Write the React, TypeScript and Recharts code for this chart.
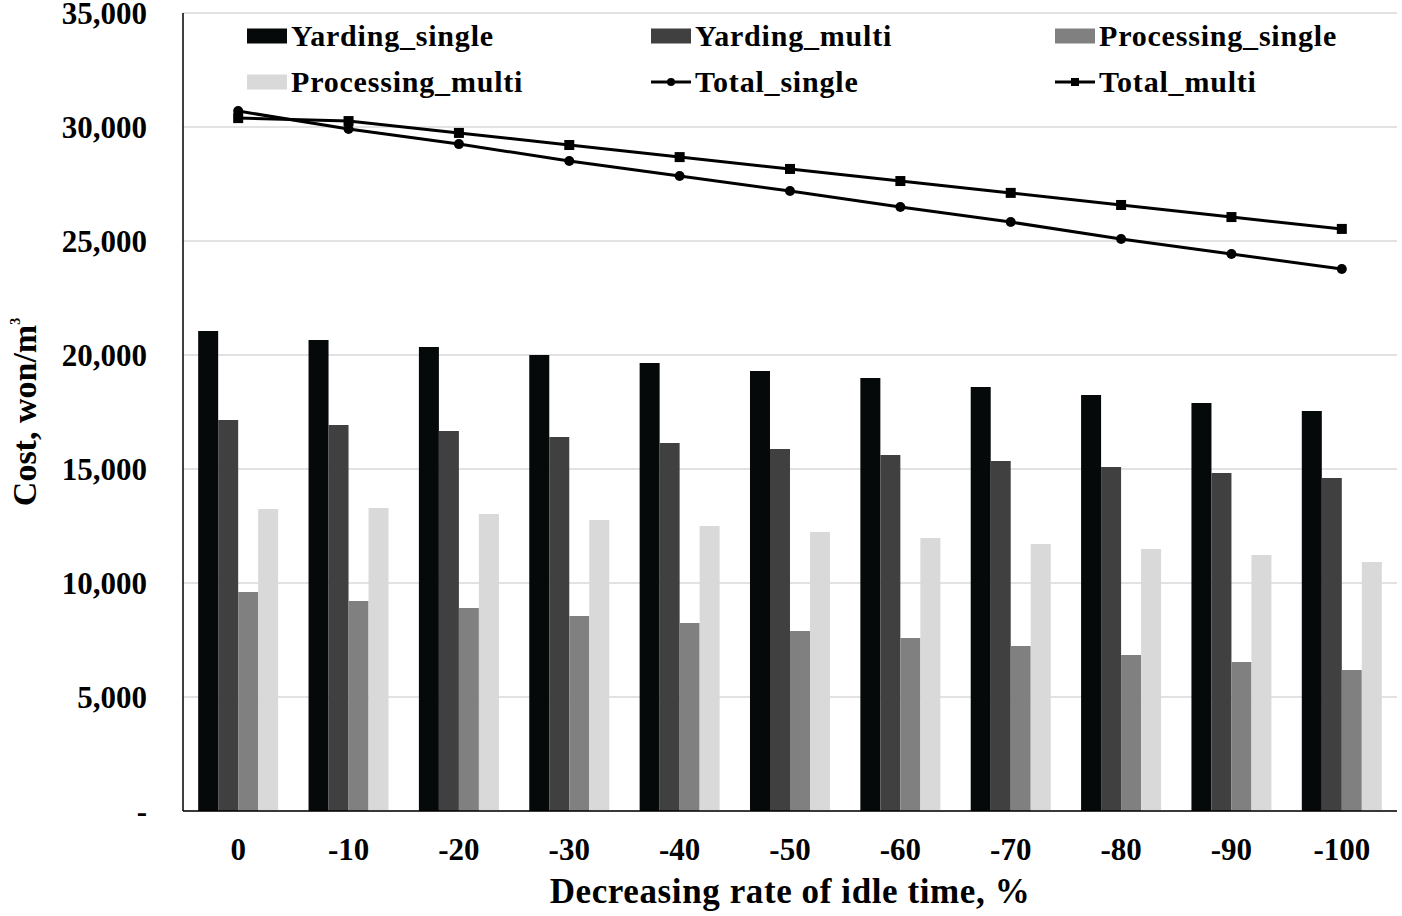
import React from 'react';
import {
  ComposedChart,
  Bar,
  Line,
  XAxis,
  YAxis,
  CartesianGrid,
} from 'recharts';

const categories = ['0', '-10', '-20', '-30', '-40', '-50', '-60', '-70', '-80', '-90', '-100'];
const yardingSingle = [21050, 20660, 20350, 20000, 19650, 19300, 18990, 18600, 18250, 17900, 17540];
const yardingMulti = [17150, 16930, 16670, 16400, 16140, 15880, 15610, 15350, 15090, 14820, 14600];
const processingSingle = [9600, 9210, 8900, 8550, 8250, 7890, 7590, 7240, 6840, 6540, 6180];
const processingMulti = [13250, 13290, 13030, 12760, 12500, 12240, 11970, 11710, 11490, 11230, 10920];
const totalSingle = [30700, 29910, 29250, 28510, 27850, 27190, 26490, 25830, 25090, 24430, 23770];
const totalMulti = [30390, 30260, 29740, 29210, 28680, 28160, 27630, 27110, 26580, 26050, 25530];
const yTicks = [0, 5000, 10000, 15000, 20000, 25000, 30000, 35000];

const chartData = categories.map((cat, i) => ({
  cat,
  yardingSingle: yardingSingle[i],
  yardingMulti: yardingMulti[i],
  processingSingle: processingSingle[i],
  processingMulti: processingMulti[i],
  totalSingle: totalSingle[i],
  totalMulti: totalMulti[i],
}));

const FONT = '"Liberation Serif", "Times New Roman", serif';

const legendItems = [
  { name: 'Yarding_single', color: '#050909', kind: 'bar' },
  { name: 'Yarding_multi', color: '#404040', kind: 'bar' },
  { name: 'Processing_single', color: '#808080', kind: 'bar' },
  { name: 'Processing_multi', color: '#d9d9d9', kind: 'bar' },
  { name: 'Total_single', color: '#000', kind: 'circle' },
  { name: 'Total_multi', color: '#000', kind: 'square' },
];

const SquareDot = (props: any) => {
  const { cx, cy } = props;
  if (cx == null || cy == null) return null;
  return <rect x={cx - 5} y={cy - 5} width={10} height={10} fill="#000" />;
};

// legend sits inside the plot box, drawn as a plain overlay
const ChartLegend = () => (
  <div
    style={{
      position: 'absolute',
      left: 247,
      top: 13,
      display: 'grid',
      gridTemplateColumns: '404px 404px 404px',
      gridAutoRows: '46px',
      fontFamily: FONT,
      fontWeight: 'bold',
      fontSize: 30,
      letterSpacing: 0.8,
      color: '#000',
    }}
  >
    {legendItems.map(item => (
      <div key={item.name} style={{ display: 'flex', alignItems: 'center', whiteSpace: 'nowrap' }}>
        <svg width={40} height={16} style={{ marginRight: 4 }}>
          {item.kind === 'bar' && <rect x={0} y={0.5} width={40} height={15} fill={item.color} />}
          {item.kind !== 'bar' && <line x1={0} y1={8} x2={40} y2={8} stroke="#000" strokeWidth={3} />}
          {item.kind === 'circle' && <circle cx={20} cy={8} r={4} fill="#000" />}
          {item.kind === 'square' && <rect x={16} y={4} width={8} height={8} fill="#000" />}
        </svg>
        <span>{item.name}</span>
      </div>
    ))}
  </div>
);

const YLabel = ({ viewBox }: any) => {
  const cx = viewBox.x + 24;
  const cy = viewBox.y + viewBox.height / 2;
  return (
    <text
      x={cx}
      y={cy}
      transform={`rotate(-90 ${cx} ${cy})`}
      textAnchor="middle"
      dominantBaseline="central"
      fontFamily={FONT}
      fontWeight="bold"
      fontSize={34}
      fill="#000"
    >
      Cost, won/m
      <tspan fontSize={14} dy={-9}>3</tspan>
    </text>
  );
};

const XLabel = ({ viewBox }: any) => {
  const cx = viewBox.x + viewBox.width / 2;
  return (
    <text
      x={cx}
      y={viewBox.y + 92}
      textAnchor="middle"
      fontFamily={FONT}
      fontWeight="bold"
      fontSize={35}
      letterSpacing={0.6}
      fill="#000"
    >
      Decreasing rate of idle time, %
    </text>
  );
};

const tickStyle = { fontFamily: FONT, fontWeight: 'bold' as const, fontSize: 31, fill: '#000' };

export default function App() {
  return (
    <div style={{ position: 'absolute', left: 0, top: 0, width: 1402, height: 916, background: '#fff' }}>
      <ComposedChart
        width={1402}
        height={916}
        data={chartData}
        margin={{ top: 13, right: 5, bottom: 0, left: 0 }}
        barCategoryGap="13.75%"
        barGap={0}
      >
        <CartesianGrid vertical={false} stroke="#d9d9d9" strokeWidth={1.5} />
        <XAxis
          dataKey="cat"
          height={105}
          tickLine={false}
          axisLine={{ stroke: '#000', strokeWidth: 1.5 }}
          tick={tickStyle}
          tickSize={0}
          tickMargin={27}
          interval={0}
          label={<XLabel />}
        />
        <XAxis
          xAxisId="top"
          dataKey="cat"
          orientation="top"
          height={0}
          tick={false}
          tickLine={false}
          axisLine={{ stroke: '#000', strokeWidth: 1.5 }}
        />
        <YAxis
          width={183}
          domain={[0, 35000]}
          ticks={yTicks}
          interval={0}
          tickLine={false}
          axisLine={{ stroke: '#000', strokeWidth: 1.5 }}
          tick={tickStyle}
          tickSize={0}
          tickMargin={36}
          tickFormatter={(v: number) => (v === 0 ? '-' : v.toLocaleString('en-US'))}
          label={<YLabel />}
        />
        <YAxis
          yAxisId="right"
          orientation="right"
          width={0}
          domain={[0, 35000]}
          tick={false}
          tickLine={false}
          axisLine={{ stroke: '#000', strokeWidth: 1.5 }}
        />
        <Bar dataKey="yardingSingle" name="Yarding_single" fill="#050909" isAnimationActive={false} />
        <Bar dataKey="yardingMulti" name="Yarding_multi" fill="#404040" isAnimationActive={false} />
        <Bar dataKey="processingSingle" name="Processing_single" fill="#808080" isAnimationActive={false} />
        <Bar dataKey="processingMulti" name="Processing_multi" fill="#d9d9d9" isAnimationActive={false} />
        <Line
          dataKey="totalSingle"
          name="Total_single"
          stroke="#000"
          strokeWidth={3}
          dot={{ r: 5, fill: '#000', stroke: '#000', strokeWidth: 0 }}
          isAnimationActive={false}
        />
        <Line
          dataKey="totalMulti"
          name="Total_multi"
          stroke="#000"
          strokeWidth={3}
          dot={<SquareDot />}
          isAnimationActive={false}
        />
      </ComposedChart>
      <ChartLegend />
    </div>
  );
}
